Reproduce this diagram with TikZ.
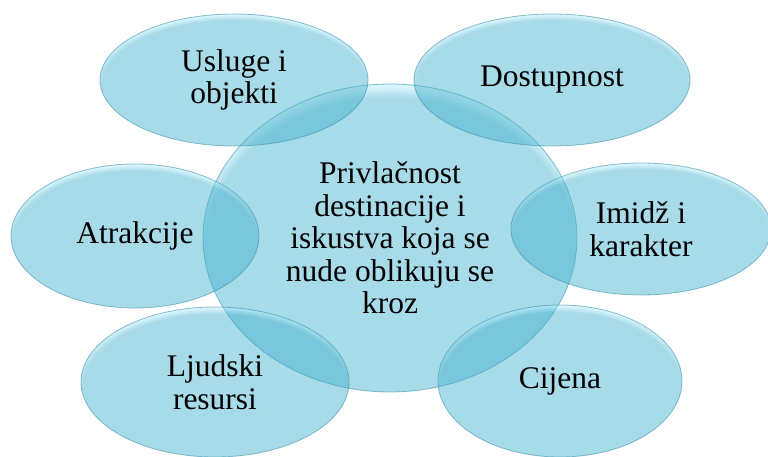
\documentclass[tikz,border=0pt]{standalone}
\usepackage{fontspec}
\newfontfamily\tnr{Liberation Serif}
\usetikzlibrary{shapes.geometric}
\definecolor{bodyc}{RGB}{62,175,205}
\definecolor{hlc}{RGB}{175,235,247}
\definecolor{rimc}{RGB}{50,140,170}
\pgfdeclareradialshading{gloss}{\pgfpoint{0bp}{-4bp}}{color(0bp)=(bodyc); color(24.8bp)=(bodyc); color(26.6bp)=(hlc); color(28.9bp)=(bodyc); color(50bp)=(bodyc)}
\begin{document}
\begin{tikzpicture}[x=1pt,y=-1pt,
  bubble/.style={ellipse, inner sep=0pt, shade, shading=gloss, fill opacity=0.45, text opacity=1,
    draw=rimc, draw opacity=0.55, line width=0.8pt, align=center,
    font=\tnr\fontsize{31.5}{32.5}\selectfont, text=black}]
\useasboundingbox (0,0) rectangle (768,457);
\node[bubble, minimum width=374pt, minimum height=308pt] (c) at (390,238)
  {Privlačnost\\destinacije i\\iskustva koja se\\nude oblikuju se\\kroz};
\node[bubble, minimum width=268pt, minimum height=132pt] (u) at (234,80) {Usluge i\\objekti};
\node[bubble, minimum width=276pt, minimum height=132pt] (d) at (552,80) {Dostupnost};
\node[bubble, minimum width=248pt, minimum height=144pt] (a) at (135,236) {Atrakcije};
\node[bubble, minimum width=260pt, minimum height=132pt] (im) at (641,229) {Imidž i\\karakter};
\node[bubble, minimum width=268pt, minimum height=150pt] (l) at (215,382) {Ljudski\\resursi};
\node[bubble, minimum width=244pt, minimum height=152pt] (ci) at (560,381) {Cijena};
\end{tikzpicture}
\end{document}
